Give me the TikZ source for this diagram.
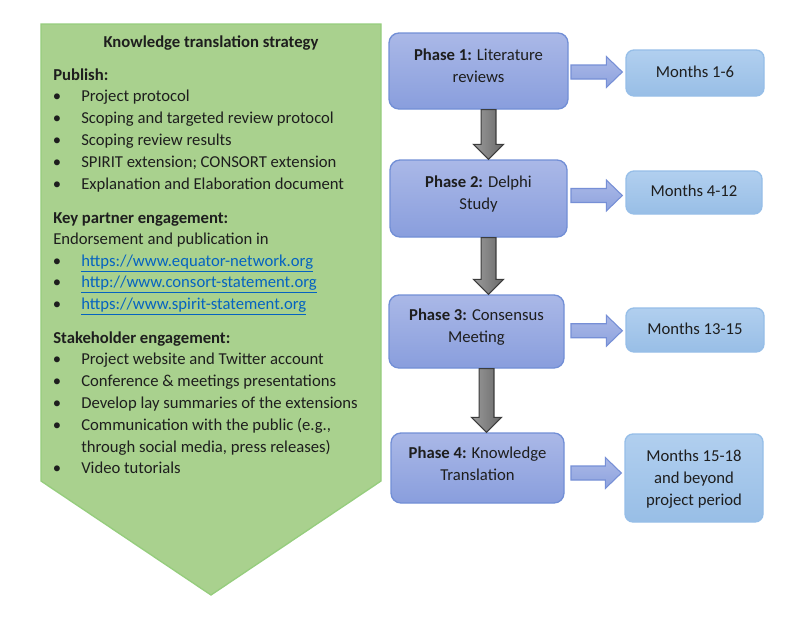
\documentclass[tikz,border=0pt]{standalone}
\usepackage{fontspec}
\setmainfont{Carlito}
\usetikzlibrary{calc}
\definecolor{greenfill}{RGB}{169,209,142}
\definecolor{greenborder}{RGB}{150,205,125}
\definecolor{phasetop}{RGB}{170,184,231}
\definecolor{phasebot}{RGB}{137,158,221}
\definecolor{phaseborder}{RGB}{114,143,214}
\definecolor{monthtop}{RGB}{177,207,239}
\definecolor{monthbot}{RGB}{152,190,230}
\definecolor{monthborder}{RGB}{150,190,232}
\definecolor{arrowfill}{RGB}{142,163,222}
\definecolor{arrowborder}{RGB}{118,143,214}
\definecolor{graylight}{RGB}{155,155,155}
\definecolor{graydark}{RGB}{105,105,105}
\definecolor{grayborder}{RGB}{60,60,60}
\definecolor{linkblue}{RGB}{5,99,193}
\definecolor{txtcol}{RGB}{30,30,30}
\tikzset{
  txt/.style={inner sep=0pt, text=txtcol, anchor=mid west, yshift=-1.5pt},
  bul/.style={inner sep=0pt, text=txtcol, anchor=mid, yshift=-1.5pt},
  phasebox/.style={draw=phaseborder, line width=1pt, rounded corners=7.5pt,
    top color=phasetop, bottom color=phasebot, inner sep=0pt},
  monthbox/.style={draw=monthborder, line width=1pt, rounded corners=6pt,
    top color=monthtop, bottom color=monthbot, inner sep=0pt},
  boxtext/.style={inner sep=0pt, text=txtcol, align=center, anchor=center},
  rarrow/.style={draw=arrowborder, line width=0.8pt, top color=phasetop, bottom color=arrowfill},
  darrow/.style={draw=grayborder, line width=0.8pt, left color=graylight, right color=graydark},
}
\newcommand\bitem[4]{% name, y, text
  \node[bul] (#1b) at (57,#2) {•};
  \node[txt] (#1) at (81,#2) {#3#4};
}
\newcommand\rblock[2]{%
  \path let \p1=($(#1.east)!0.5!(#2.west)$), \p2=(ax), \p3=(#2.west) in
    [rarrow] (\x2,\y1+5.25pt) -- (\x3-14.25pt,\y1+5.25pt) -- (\x3-14.25pt,\y1+11.6pt)
    -- (\x3-2.25pt,\y1) -- (\x3-14.25pt,\y1-11.6pt) -- (\x3-14.25pt,\y1-5.25pt)
    -- (\x2,\y1-5.25pt) -- cycle;
}
\newcommand\dblock[2]{%
  \path let \p1=($(#1.south)+(10,0)$), \p2=(#2.north) in
    [darrow] (\x1-5.6pt,\y1) -- (\x1+5.6pt,\y1) -- (\x1+5.6pt,\y2+11.25pt)
    -- (\x1+11.25pt,\y2+11.25pt) -- (\x1,\y2) -- (\x1-11.25pt,\y2+11.25pt)
    -- (\x1-5.6pt,\y2+11.25pt) -- cycle;
}
\begin{document}
\begin{tikzpicture}[x=0.75pt,y=-0.75pt, font=\fontsize{12.5}{16.5}\selectfont]
\useasboundingbox (0,0) rectangle (800,622);
\fill[white] (0,0) rectangle (800,622);
% green chevron
\draw[draw=greenborder, fill=greenfill, line width=1pt]
  (41,24) -- (381,24) -- (381,481) -- (211,595) -- (41,481) -- cycle;
\node[bul] (title) at (211,42) {\textbf{Knowledge translation strategy}};
\node[txt] (pub) at (53,75) {\textbf{Publish:}};
\bitem{p1}{96}{Project protocol}{}
\bitem{p2}{118}{Scoping and targeted review protocol}{}
\bitem{p3}{140}{Scoping review results}{}
\bitem{p4}{162}{SPIRIT extension; CONSORT extension}{}
\bitem{p5}{184}{Explanation and Elaboration document}{}
\node[txt] (kp) at (53,218) {\textbf{Key partner engagement:}};
\node[txt] (end) at (53,239) {Endorsement and publication in};
\bitem{l1}{261}{\color{linkblue}\underline{https://www.equator-network.org}}{}
\bitem{l2}{282.5}{\color{linkblue}\underline{http://www.consort-statement.org}}{}
\bitem{l3}{304}{\color{linkblue}\underline{https://www.spirit-statement.org}}{}
\node[txt] (sh) at (53,338) {\textbf{Stakeholder engagement:}};
\bitem{s1}{359}{Project website and Twitter account}{}
\bitem{s2}{381}{Conference \& meetings presentations}{}
\bitem{s3}{403}{Develop lay summaries of the extensions}{}
\bitem{s4}{425}{Communication with the public (e.g.,}{}
\node[txt] (s4b) at (81,447) {through social media, press releases)};
\bitem{s5}{468}{Video tutorials}{}
% phase boxes
\node[phasebox, minimum width=134.25pt, minimum height=57pt] (P1) at (478.5,71) {};
\node[phasebox, minimum width=132.75pt, minimum height=57.75pt] (P2) at (478.5,198.5) {};
\node[phasebox, minimum width=131.25pt, minimum height=54.75pt] (P3) at (476.5,331.5) {};
\node[phasebox, minimum width=129.75pt, minimum height=52.5pt] (P4) at (477.5,468) {};
\node[boxtext] (P1t) at ($(P1.center)+(0,-5)$) {\textbf{Phase 1:} Literature\\reviews};
\node[boxtext] (P2t) at ($(P2.center)+(0,-5)$) {\textbf{Phase 2:} Delphi\\Study};
\node[boxtext] (P3t) at ($(P3.center)+(0,-4)$) {\textbf{Phase 3:} Consensus\\Meeting};
\node[boxtext] (P4t) at ($(P4.center)+(0,-4)$) {\textbf{Phase 4:} Knowledge\\Translation};
% month boxes
\node[monthbox, minimum width=103.5pt, minimum height=34.5pt] (M1) at (695,73) {};
\node[monthbox, minimum width=102pt, minimum height=32.25pt] (M2) at (694,192.5) {};
\node[monthbox, minimum width=103.5pt, minimum height=33pt] (M3) at (695,330) {};
\node[monthbox, minimum width=103.5pt, minimum height=66pt] (M4) at (694,478) {};
\node[boxtext] (M1t) at ($(M1.center)+(0,-1.5)$) {Months 1-6};
\node[boxtext] (M2t) at ($(M2.center)+(0,-1.5)$) {Months 4-12};
\node[boxtext] (M3t) at ($(M3.center)+(0,-1.5)$) {Months 13-15};
\node[boxtext] (M4t) at ($(M4.center)+(0,1.5)$) {Months 15-18\\and beyond\\project period};
% arrows
\coordinate (ax) at (571,0);
\rblock{P1}{M1}
\rblock{P2}{M2}
\rblock{P3}{M3}
\rblock{P4}{M4}
\dblock{P1}{P2}
\dblock{P2}{P3}
\dblock{P3}{P4}
\end{tikzpicture}
\end{document}
